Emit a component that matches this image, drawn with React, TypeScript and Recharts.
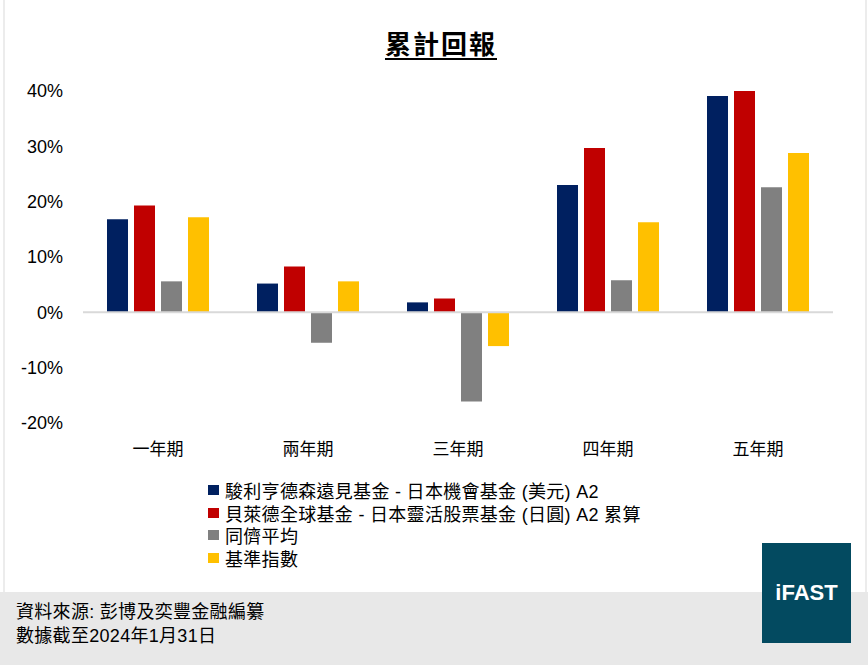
import React from 'react';
import { BarChart, Bar, XAxis, YAxis, ReferenceLine } from 'recharts';

const categories = ['一年期', '兩年期', '三年期', '四年期', '五年期'];
const janusValues = [16.8, 5.2, 1.8, 23.0, 39.1];
const blackrockValues = [19.3, 8.3, 2.5, 29.7, 40.0];
const peerValues = [5.6, -5.5, -16.1, 5.8, 22.6];
const benchmarkValues = [17.2, 5.6, -6.1, 16.3, 28.8];
const yTicks = [-20, -10, 0, 10, 20, 30, 40];

const series = [
  { key: 'janus', name: '駿利亨德森遠見基金 - 日本機會基金 (美元) A2', color: '#002060' },
  { key: 'blackrock', name: '貝萊德全球基金 - 日本靈活股票基金 (日圓) A2 累算', color: '#C00000' },
  { key: 'peer', name: '同儕平均', color: '#808080' },
  { key: 'benchmark', name: '基準指數', color: '#FFC000' },
];

const chartData = categories.map((c, i) => ({
  name: c,
  janus: janusValues[i],
  blackrock: blackrockValues[i],
  peer: peerValues[i],
  benchmark: benchmarkValues[i],
}));

const FONT = '"Liberation Sans", Arial, "Noto Sans CJK TC", sans-serif';

const App: React.FC = () => {
  return (
    <div style={{ position: 'absolute', left: 0, top: 0, width: 868, height: 665, background: '#fff', overflow: 'hidden', fontFamily: FONT, color: '#000' }}>
      {/* side frame lines */}
      <div style={{ position: 'absolute', left: 3, top: 0, width: 860, height: 665, borderLeft: '2px solid #ececec', borderRight: '2px solid #ececec' }} />

      {/* footer band */}
      <div style={{ position: 'absolute', left: 0, top: 592, width: 868, height: 73, background: '#e8e8e8' }} />
      <div style={{ position: 'absolute', left: 16, top: 600, fontSize: 18, lineHeight: '24px', letterSpacing: 0.3 }}>
        <div>資料來源: 彭博及奕豐金融編纂</div>
        <div>數據截至2024年1月31日</div>
      </div>

      {/* iFAST logo box */}
      <div style={{ position: 'absolute', left: 762, top: 543, width: 89, height: 100, background: '#034a60', color: '#fff', display: 'flex', alignItems: 'center', justifyContent: 'center', fontWeight: 'bold', fontSize: 22 }}>
        iFAST
      </div>

      {/* title */}
      <div style={{ position: 'absolute', left: 7, top: 28, width: 868, textAlign: 'center' }}>
        <span style={{ fontSize: 26, fontWeight: 'bold', letterSpacing: 2, textDecoration: 'underline', textUnderlineOffset: 4, lineHeight: '34px' }}>累計回報</span>
      </div>

      <div style={{ position: 'absolute', left: 0, top: 0 }}>
        <BarChart
          width={868}
          height={470}
          data={chartData}
          margin={{ top: 91, right: 35, left: 0, bottom: 0 }}
          barCategoryGap="16%"
          barGap={6}
        >
          <XAxis
            dataKey="name"
            axisLine={false}
            tickLine={false}
            height={47}
            tickMargin={14}
            tick={{ fontSize: 17, fill: '#000', fontFamily: FONT }}
          />
          <YAxis
            domain={[-20, 40]}
            ticks={yTicks}
            width={83}
            axisLine={false}
            tickLine={false}
            tickMargin={14}
            interval={0}
            tickFormatter={(v) => `${v}%`}
            tick={{ fontSize: 18, fill: '#000', fontFamily: FONT }}
          />
          <ReferenceLine y={0} stroke="#d9d9d9" strokeWidth={2} />
          {series.map(s => (
            <Bar key={s.key} dataKey={s.key} name={s.name} fill={s.color} isAnimationActive={false} />
          ))}
        </BarChart>
      </div>

      {/* legend */}
      <div style={{ position: 'absolute', left: 208, top: 479 }}>
        {series.map(s => (
          <div key={s.key} style={{ display: 'flex', alignItems: 'center', height: 22.6, fontSize: 18, whiteSpace: 'nowrap', letterSpacing: 0.3 }}>
            <span style={{ display: 'inline-block', width: 11, height: 10, background: s.color, marginRight: 6 }} />
            <span>{s.name}</span>
          </div>
        ))}
      </div>
    </div>
  );
};

export default App;
